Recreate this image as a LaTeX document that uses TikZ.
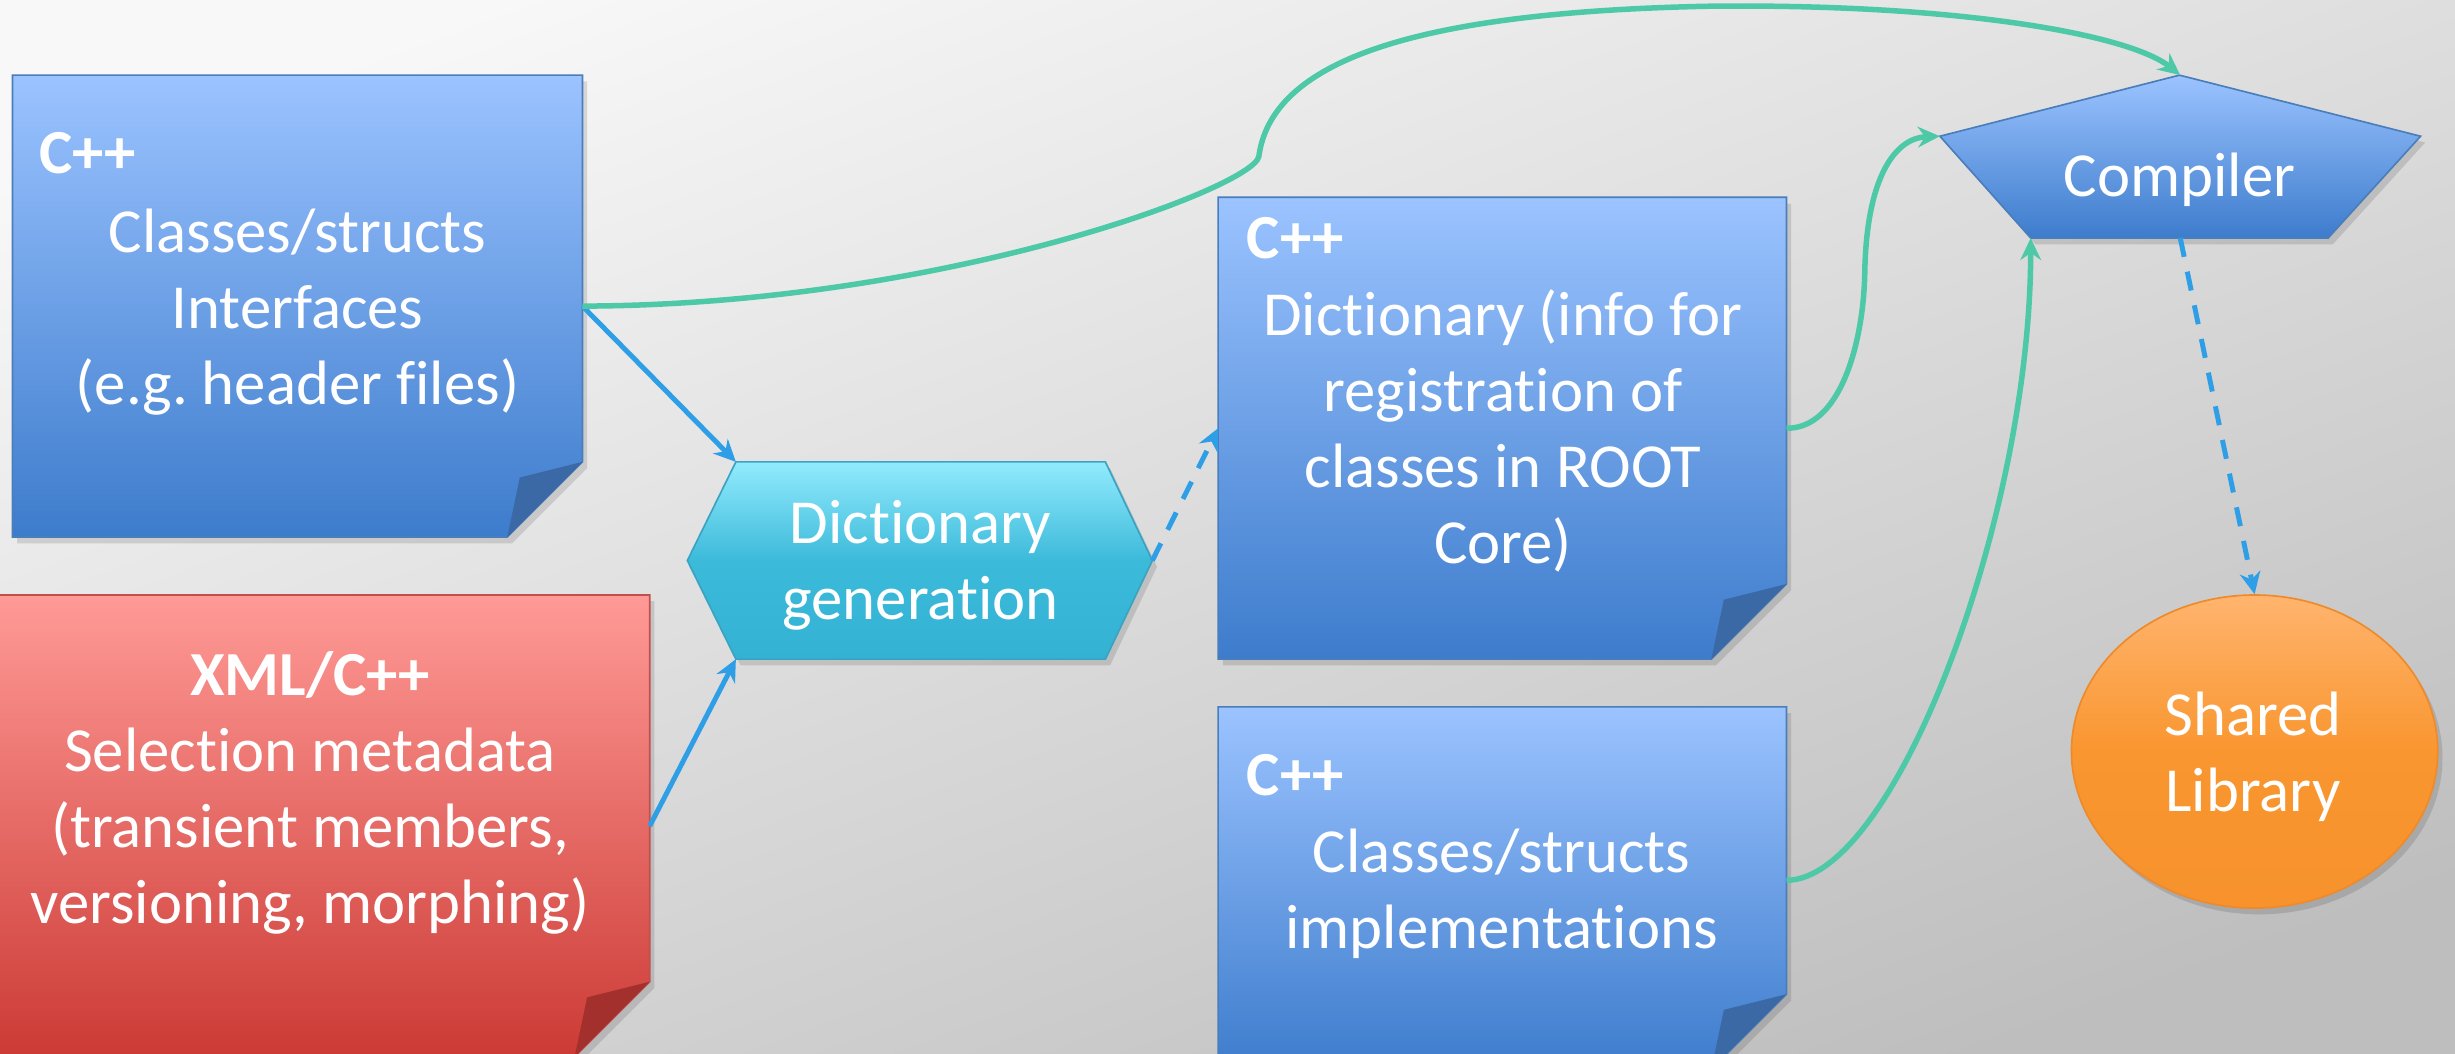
\documentclass[tikz,border=0pt]{standalone}
\usepackage{fontspec}
\setmainfont{Carlito}[Ligatures=NoCommon]
\usetikzlibrary{arrows.meta,shapes.geometric,fit,calc}
\definecolor{bgtop}{HTML}{F8F8F8}
\definecolor{bgbot}{HTML}{BEBEBE}
\definecolor{bluetop}{HTML}{9BC3FF}
\definecolor{bluebot}{HTML}{3D7CCC}
\definecolor{blueedge}{HTML}{4A7EBB}
\definecolor{blueflap}{HTML}{3A69A6}
\definecolor{redtop}{HTML}{FF9A96}
\definecolor{redbot}{HTML}{CC3A35}
\definecolor{rededge}{HTML}{C0504D}
\definecolor{redflap}{HTML}{A3302D}
\definecolor{cyantop}{HTML}{92EBFD}
\definecolor{cyanmid}{HTML}{3CBADA}
\definecolor{cyanbot}{HTML}{34B2D4}
\definecolor{cyanedge}{HTML}{3AA3C2}
\definecolor{orgtop}{HTML}{FFB46E}
\definecolor{orgmid}{HTML}{F9962F}
\definecolor{orgbot}{HTML}{F7922C}
\definecolor{orgedge}{HTML}{EE8A2A}
\definecolor{arrblue}{HTML}{2E9FE6}
\definecolor{arrgreen}{HTML}{4DC9A8}

\newcommand{\stackedlines}[1]{\begin{tabular}[t]{@{}c@{}}#1\end{tabular}}
% #1 name, #2 x1, #3 y1, #4 x2, #5 y2 (shape), #6 fill style, #7 flap colour, #8 bottom used for the node
\newcommand{\notebox}[8]{%
  \fill[shadowfill] (#2+3,#3+4) -- (#4+3,#3+4) -- (#4+3,#5-48+4) -- (#4-48+3,#5+4) -- (#2+3,#5+4) -- cycle;
  \path[#6] (#2,#3) -- (#4,#3) -- (#4,#5-48) -- (#4-48,#5) -- (#2,#5) -- cycle;
  \fill[#7] (#4,#5-48) -- (#4-40,#5-38) -- (#4-48,#5) -- cycle;
  \node[holder, fit={(#2,#3) (#4,#8)}] (#1) {};
}

\tikzset{
  txt/.style={text=white, inner sep=0pt, font=\fontsize{22.8}{27.7}\selectfont\frenchspacing},
  tagtext/.style={txt, font=\fontsize{22.8}{27.7}\selectfont\bfseries, anchor=base west},
  bodytext/.style={txt, anchor=base},
  holder/.style={inner sep=0pt, outer sep=0pt},
  shadowfill/.style={fill=black, opacity=0.12},
  bluefill/.style={top color=bluetop, bottom color=bluebot, draw=blueedge, line width=0.6pt},
  redfill/.style={top color=redtop, bottom color=redbot, draw=rededge, line width=0.6pt},
  cyanfill/.style={top color=cyantop, bottom color=cyanbot, middle color=cyanmid, draw=cyanedge, line width=0.6pt},
  flow/.style={arrblue, line width=1.8pt, -{Stealth[length=8pt,width=7.5pt]}},
  flowdash/.style={flow, dash pattern=on 7pt off 5.5pt},
  feed/.style={arrgreen, line width=2pt, -{Stealth[length=8pt,width=7.5pt]}},
}

\begin{document}
\begin{tikzpicture}[x=0.02cm, y=-0.02cm]
\useasboundingbox (0,0) rectangle (1568,673);
\clip (0,0) rectangle (1568,673);
\shade[top color=bgtop, bottom color=bgbot, shading angle=20] (-20,-20) rectangle (1590,700);

% note boxes
\notebox{hdr}{8}{48}{372}{343}{bluefill}{blueflap}{343}
\notebox{xml}{-5}{380}{415}{675}{redfill}{redflap}{675}
\notebox{dict}{778}{126}{1141}{421}{bluefill}{blueflap}{421}
\notebox{impl}{778}{451.5}{1141}{683}{bluefill}{blueflap}{673}

% dictionary generation hexagon
\fill[shadowfill] (473,299) -- (709,299) -- (739,362) -- (709,425) -- (473,425) -- (442,362) -- cycle;
\path[cyanfill] (470,295) -- (706,295) -- (736,358) -- (706,421) -- (470,421) -- (439,358) -- cycle;
\node[holder, fit={(439,295) (736,421)}] (gen) {};

% compiler pentagon
\fill[shadowfill] (1395,52) -- (1549,91) -- (1490,156) -- (1300,156) -- (1242,91) -- cycle;
\path[bluefill] (1392,48) -- (1546,87) -- (1487,152) -- (1297,152) -- (1239,87) -- cycle;
\node[holder, fit={(1239,48) (1546,152)}] (comp) {};

% shared library ellipse
\fill[shadowfill] (1443,484) ellipse [x radius=117, y radius=100];
\node[ellipse, inner sep=0pt, minimum width=4.68cm, minimum height=4.0cm,
      top color=orgtop, bottom color=orgbot, middle color=orgmid, draw=orgedge, line width=0.6pt] (lib) at (1440,480) {};

% texts
\node[tagtext] (hdrtag) at (25,110.6) {C++};
\node[bodytext] (hdrtxt) at (190,161) {\stackedlines{Classes/structs\\Interfaces\\(e.g. header files)}};
\node[bodytext] (xmltxt) at (198,444) {\stackedlines{\textbf{XML/C++}\\Selection metadata\\(transient members,\\versioning, morphing)}};
\node[tagtext] (dicttag) at (796,165) {C++};
\node[bodytext] (dicttxt) at (960,214) {\stackedlines{Dictionary (info for\\registration of\\classes in ROOT\\Core)}};
\node[tagtext] (impltag) at (796,508) {C++};
\node[bodytext] (impltxt) at (959,557) {\stackedlines{Classes/structs\\implementations}};
\node[bodytext] (gentxt) at (588,347) {\stackedlines{Dictionary\\generation}};
\node[bodytext] (comptxt) at (1392,125.3) {Compiler};
\node[bodytext] (libtxt) at (1439,469.5) {\stackedlines{Shared\\Library}};

% connectors
\draw[flow] (hdr.east) -- ([xshift=0.62cm]gen.north west);
\draw[flow] (xml.east) -- ([xshift=0.62cm]gen.south west);
\draw[flowdash] (gen.east) -- (dict.west);
\draw[feed] (hdr.east) .. controls (600,195) and (800,120) .. (804,100)
  .. controls (812,40) and (900,8) .. (1090,4)
  .. controls (1250,2) and (1360,22) .. (comp.north);
\draw[feed] (dict.east) .. controls (1175,274) and (1190,220) .. (1191,175)
  .. controls (1192,110) and (1212,88) .. ([yshift=0.26cm]comp.west);
\draw[feed] (impl.east) .. controls (1210,562) and (1297,330) .. ([xshift=1.16cm]comp.south west);
\draw[flowdash] (comp.south) -- (lib.north);
\end{tikzpicture}
\end{document}
